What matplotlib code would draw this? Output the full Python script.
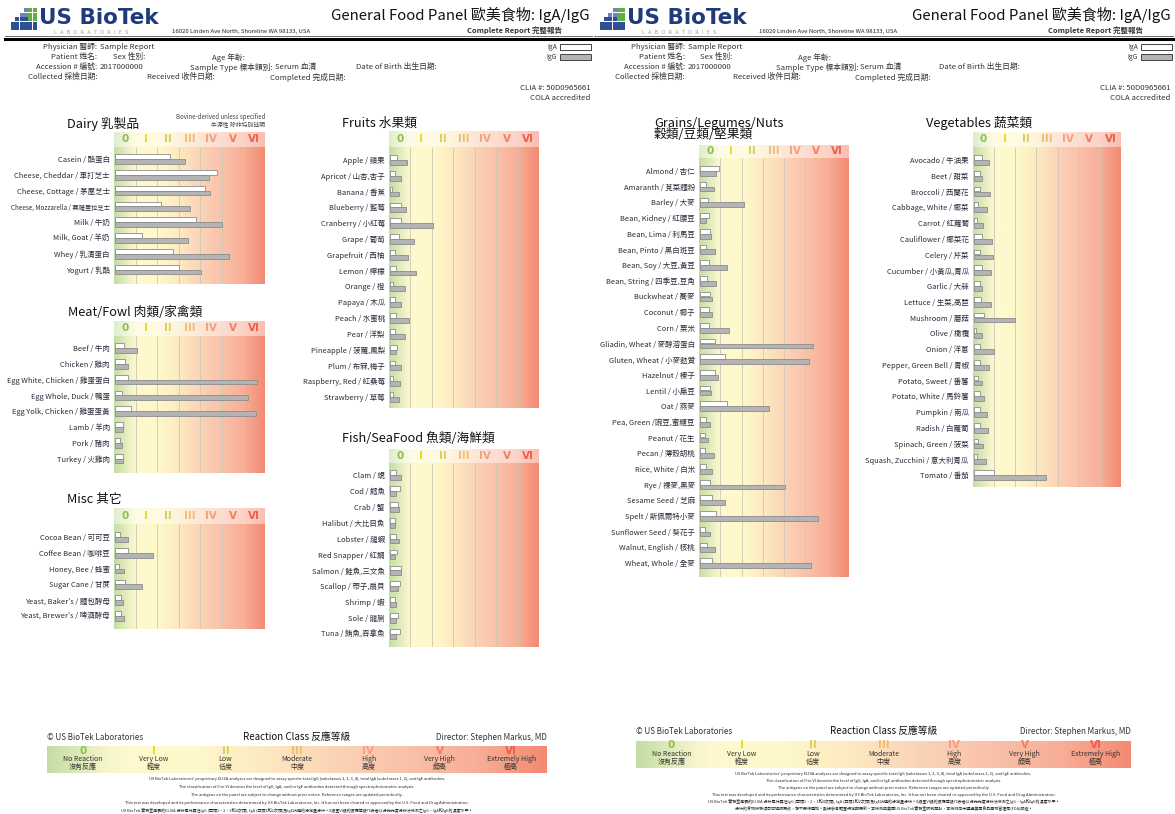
import numpy as np
import matplotlib
matplotlib.use('Agg')
import matplotlib.pyplot as plt
from matplotlib.colors import LinearSegmentedColormap, to_rgb

plt.rcParams['font.family'] = ['Noto Sans CJK TC', 'DejaVu Sans']

# ---------------- data ----------------
classes = ['0', 'I', 'II', 'III', 'IV', 'V', 'VI']
class_names = ['No Reaction', 'Very Low', 'Low', 'Moderate', 'High', 'Very High', 'Extremely High']
class_names_zh = ['沒有反應', '輕度', '低度', '中度', '高度', '頗高', '極高']

dairy_labels = ['Casein / 酪蛋白', 'Cheese, Cheddar / 車打芝士', 'Cheese, Cottage / 茅屋芝士',
                'Cheese, Mozzarella / 莫薩里拉芝士', 'Milk / 牛奶', 'Milk, Goat / 羊奶',
                'Whey / 乳清蛋白', 'Yogurt / 乳酪']
dairy_iga = [2.55, 4.72, 4.17, 2.14, 3.75, 1.27, 2.70, 2.98]
dairy_igg = [3.24, 4.38, 4.41, 3.50, 4.97, 3.39, 5.31, 3.97]

meat_labels = ['Beef / 牛肉', 'Chicken / 雞肉', 'Egg White, Chicken / 雞蛋蛋白', 'Egg Whole, Duck / 鴨蛋',
               'Egg Yolk, Chicken / 雞蛋蛋黃', 'Lamb / 羊肉', 'Pork / 豬肉', 'Turkey / 火雞肉']
meat_iga = [0.43, 0.46, 0.62, 0.34, 0.74, 0.40, 0.22, 0.40]
meat_igg = [1.02, 0.62, 6.60, 6.19, 6.54, 0.40, 0.31, 0.40]

misc_labels = ['Cocoa Bean / 可可豆', 'Coffee Bean / 咖啡豆', 'Honey, Bee / 蜂蜜', 'Sugar Cane / 甘蔗',
               "Yeast, Baker's / 麵包酵母", "Yeast, Brewer's / 啤酒酵母"]
misc_iga = [0.25, 0.62, 0.20, 0.46, 0.28, 0.28]
misc_igg = [0.63, 1.76, 0.43, 1.28, 0.37, 0.43]

fruit_labels = ['Apple / 蘋果', 'Apricot / 山杏,杏子', 'Banana / 香蕉', 'Blueberry / 藍莓', 'Cranberry / 小紅莓',
                'Grape / 葡萄', 'Grapefruit / 西柚', 'Lemon / 檸檬', 'Orange / 橙', 'Papaya / 木瓜',
                'Peach / 水蜜桃', 'Pear / 洋梨', 'Pineapple / 菠蘿,鳳梨', 'Plum / 布冧,梅子',
                'Raspberry, Red / 紅桑莓', 'Strawberry / 草莓']
fruit_iga = [0.33, 0.22, 0.09, 0.50, 0.50, 0.42, 0.26, 0.31, 0.16, 0.22, 0.31, 0.23, 0.34, 0.22, 0.16, 0.16]
fruit_igg = [0.79, 0.53, 0.44, 0.75, 2.02, 1.15, 0.87, 1.20, 0.73, 0.53, 0.89, 0.73, 0.31, 0.53, 0.47, 0.44]

fish_labels = ['Clam / 蜆', 'Cod / 鱈魚', 'Crab / 蟹', 'Halibut / 大比目魚', 'Lobster / 龍蝦', 'Red Snapper / 紅鯛',
               'Salmon / 鮭魚,三文魚', 'Scallop / 帶子,扇貝', 'Shrimp / 蝦', 'Sole / 龍脷', 'Tuna / 鮪魚,吞拿魚']
fish_iga = [0.31, 0.47, 0.37, 0.26, 0.28, 0.34, 0.53, 0.47, 0.26, 0.37, 0.47]
fish_igg = [0.53, 0.31, 0.42, 0.26, 0.42, 0.22, 0.53, 0.37, 0.31, 0.31, 0.31]

grain_labels = ['Almond / 杏仁', 'Amaranth / 莧菜麵粉', 'Barley / 大麥', 'Bean, Kidney / 紅腰豆', 'Bean, Lima / 利馬豆',
                'Bean, Pinto / 黑白斑豆', 'Bean, Soy / 大豆,黃豆', 'Bean, String / 四季豆,豆角', 'Buckwheat / 蕎麥',
                'Coconut / 椰子', 'Corn / 粟米', 'Gliadin, Wheat / 麥醇溶蛋白', 'Gluten, Wheat / 小麥麩質',
                'Hazelnut / 榛子', 'Lentil / 小扁豆', 'Oat / 燕麥', 'Pea, Green /豌豆,蜜糖豆', 'Peanut / 花生',
                'Pecan / 薄殼胡桃', 'Rice, White / 白米', 'Rye / 裸麥,黑麥', 'Sesame Seed / 芝麻',
                'Spelt / 斯佩爾特小麥', 'Sunflower Seed / 葵花子', 'Walnut, English / 核桃', 'Wheat, Whole / 全麥']
grain_iga = [0.89, 0.31, 0.38, 0.42, 0.50, 0.31, 0.42, 0.34, 0.47, 0.41, 0.42, 0.69, 1.20,
             0.69, 0.47, 1.28, 0.27, 0.23, 0.25, 0.28, 0.47, 0.59, 0.78, 0.25, 0.34, 0.59]
grain_igg = [0.74, 0.66, 2.07, 0.31, 0.53, 0.70, 1.28, 0.75, 0.59, 0.59, 1.36, 5.32, 5.13,
             0.85, 0.53, 3.25, 0.47, 0.39, 0.66, 0.59, 4.00, 1.16, 5.54, 0.47, 0.70, 5.20]

veg_labels = ['Avocado / 牛油果', 'Beet / 甜菜', 'Broccoli / 西蘭花', 'Cabbage, White / 椰菜', 'Carrot / 紅蘿蔔',
              'Cauliflower / 椰菜花', 'Celery / 芹菜', 'Cucumber / 小黃瓜,青瓜', 'Garlic / 大蒜',
              'Lettuce / 生菜,萵苣', 'Mushroom / 蘑菇', 'Olive / 橄欖', 'Onion / 洋蔥',
              'Pepper, Green Bell / 青椒', 'Potato, Sweet / 番薯', 'Potato, White / 馬鈴薯', 'Pumpkin / 南瓜',
              'Radish / 白蘿蔔', 'Spinach, Green / 菠菜', 'Squash, Zucchini / 意大利青瓜', 'Tomato / 番茄']
veg_iga = [0.38, 0.31, 0.31, 0.22, 0.16, 0.38, 0.31, 0.38, 0.27, 0.35, 0.50, 0.09, 0.31,
           0.27, 0.19, 0.28, 0.27, 0.27, 0.19, 0.16, 0.94]
veg_igg = [0.72, 0.38, 0.75, 0.63, 0.42, 0.85, 0.90, 0.82, 0.38, 0.79, 1.97, 0.38, 0.94,
           0.72, 0.38, 0.47, 0.63, 0.68, 0.42, 0.58, 3.40]

disclaimer = [
    "US BioTek Laboratories' proprietary ELISA analyses are designed to assay specific total IgG (subclasses 1, 2, 3, 4), total IgA (subclasses 1, 2), and IgE antibodies.",
    "The classification of 0 to VI denotes the level of IgG, IgA, and/or IgE antibodies detected through spectrophotometric analysis.",
    "The antigens on the panel are subject to change without prior notice. Reference ranges are updated periodically.",
    "This test was developed and its performance characteristics determined by US BioTek Laboratories, Inc. It has not been cleared or approved by the U.S. Food and Drug Administration.",
    "US BioTek 實驗室專屬的ELISA 分析是特異性IgG (亞類1、2、3和4次類), IgA (亞類1和2次類)及IgE抗體的分定量分析。0級至VI級的反應等級代表著以分光光度分析法檢測之IgG、IgA和IgE的濃度水平。",
    "分析的食物檢驗項目可隨時更改，恕不另行通知。數據參考範圍將定期更新。本檢測由美國US BioTek實驗室研究開發，本檢測尚未通過美國食品藥物管理局(FDA)認證。",
]

# ---------------- styling ----------------
W, H = 1175, 814
class_colors = ['#8cc04a', '#ecd820', '#d6cf5e', '#eebf72', '#f4a080', '#f37f62', '#ee5e4c']
grad_stops = [(0.0, '#c3dea5'), (0.12, '#f6f5cc'), (0.16, '#fef9cf'), (0.30, '#fef8ca'),
              (0.43, '#fdeac0'), (0.57, '#fbd4b7'), (0.72, '#f9c1a9'), (0.86, '#f8ae97'), (1.0, '#f38a72')]
cmap = LinearSegmentedColormap.from_list('rc', grad_stops)
light_stops = [(p, tuple(0.55 * np.array(to_rgb(c)) + 0.45)) for p, c in grad_stops]
cmap_light = LinearSegmentedColormap.from_list('rcl', light_stops)
grad = np.linspace(0, 1, 256)[None, :]
text_col = '#2b2b3b'

fig = plt.figure(figsize=(W / 100, H / 100), dpi=100)
ov = fig.add_axes([0, 0, 1, 1], zorder=0)
ov.set_xlim(0, W)
ov.set_ylim(H, 0)
ov.axis('off')


def fig_rect(x0, y0, x1, y1):
    return [x0 / W, 1 - y1 / H, (x1 - x0) / W, (y1 - y0) / H]


def draw_panel(labels, iga, igg, box, title, title_xy, label_fs=5.4, small=()):
    left, right, htop, hbot, first, step, bottom = box
    ax = fig.add_axes(fig_rect(left, htop, right, bottom), zorder=2)
    n = len(labels)
    ytop = (htop - first) / step
    yhb = (hbot - first) / step
    ybot = (bottom - first) / step
    ax.imshow(grad, cmap=cmap, extent=[0, 7, ybot, yhb], aspect='auto', zorder=0, interpolation='bilinear')
    ax.imshow(grad, cmap=cmap_light, extent=[0, 7, yhb, ytop], aspect='auto', zorder=0, interpolation='bilinear')
    ax.vlines(np.arange(1, 7), yhb, ybot, color='#cfc7b5', lw=0.6, zorder=1)
    for k, (c, col) in enumerate(zip(classes, class_colors)):
        ax.text(k + 0.5, (yhb + ytop) / 2, c, ha='center', va='center', fontsize=7.5,
                fontweight='bold', color=col, family='DejaVu Sans')
    y = np.arange(n)
    ax.barh(y - 0.155, iga, height=0.3, left=0.04, color='white', edgecolor='#8c8c8c', lw=0.6, zorder=3)
    ax.barh(y + 0.155, igg, height=0.3, left=0.04, color='#b4b4b4', edgecolor='#8c8c8c', lw=0.6, zorder=3)
    ax.set_xlim(0, 7)
    ax.set_ylim(ybot, ytop)
    ax.set_yticks(y)
    ax.set_yticklabels(labels, fontsize=label_fs, color=text_col)
    for i in small:
        ax.get_yticklabels()[i].set_fontsize(4.5)
    ax.set_xticks([])
    ax.tick_params(axis='y', length=0, pad=3)
    for s in ax.spines.values():
        s.set_visible(False)
    if isinstance(title, (list, tuple)):
        for i, t in enumerate(title):
            ov.text(title_xy[0], title_xy[1] + i * 11, t, fontsize=9.2, ha='left', va='center', color='#111')
    else:
        ov.text(title_xy[0], title_xy[1], title, fontsize=9.2, ha='left', va='center', color='#111')
    return ax


def draw_header(dx, s=1.0):
    X = lambda x: dx + s * x
    for r in range(5):
        for c in range(6):
            if c < 3 - r:
                continue
            col = '#5fae46' if (c >= 4 and r <= 2) else ('#2f4f93' if r >= 2 else '#6f86b8')
            ov.scatter(X(13 + c * 4.3), 10 + r * 4.6, s=5.5, marker='s', color=col, lw=0)
    ov.text(X(39), 18, 'US BioTek', fontsize=15.5, fontweight='bold', color='#213a7c',
            va='center', ha='left', family='DejaVu Sans')
    ov.text(X(91), 32, 'L  A  B  O  R  A  T  O  R  I  E  S', fontsize=3.6, color='#9a9a9a',
            ha='center', va='center', family='DejaVu Sans')
    ov.text(X(172), 31, '16020 Linden Ave North, Shoreline WA 98133, USA', fontsize=4.3,
            color='#222', va='center', ha='left')
    ov.text(X(590), 15, 'General Food Panel 歐美食物: IgA/IgG', fontsize=10.8, color='#111',
            ha='right', va='center')
    ov.text(X(562), 30, 'Complete Report 完整報告', fontsize=5.4, color='#333', ha='right',
            va='center', fontweight='bold')
    ov.plot([X(5), X(592)], [35.5, 35.5], color='#555', lw=0.6)
    ov.plot([X(5), X(592)], [38.5, 38.5], color='#000', lw=2.2)
    fs = 5.6
    rows = [
        (47, [(97, 'Physician 醫師:', 'right'), (100, 'Sample Report', 'left')]),
        (57, [(97, 'Patient 姓名:', 'right'), (145, 'Sex 性別:', 'right'), (245, 'Age 年齡:', 'right')]),
        (67, [(97, 'Accession # 編號:', 'right'), (100, '2017000000', 'left'),
              (273, 'Sample Type 標本類別:', 'right'), (275, 'Serum 血清', 'left'),
              (437, 'Date of Birth 出生日期:', 'right')]),
        (77, [(97, 'Collected 採檢日期:', 'right'), (215, 'Received 收件日期:', 'right'),
              (346, 'Completed 完成日期:', 'right')]),
    ]
    for yy, items in rows:
        for xx, t, ha in items:
            ov.text(X(xx), yy, t, fontsize=fs, ha=ha, va='center', color='#333')
    ov.text(X(557), 47, 'IgA', fontsize=4.8, ha='right', va='center', color='#333')
    ov.text(X(557), 57, 'IgG', fontsize=4.8, ha='right', va='center', color='#333')
    ov.add_patch(plt.Rectangle((X(560), 43.5), 31 * s, 6, facecolor='white', edgecolor='#444', lw=0.7))
    ov.add_patch(plt.Rectangle((X(560), 53.5), 31 * s, 6, facecolor='#b4b4b4', edgecolor='#444', lw=0.7))
    ov.text(X(590), 88, 'CLIA #: 50D0965661', fontsize=5.6, ha='right', va='center', color='#333')
    ov.text(X(590), 98, 'COLA accredited', fontsize=5.6, ha='right', va='center', color='#333')


def draw_footer(x0, x1, ytext, bar_top, bar_bot, dis_y, dis_step, n_lines):
    ov.text(x0, ytext, '© US BioTek Laboratories', fontsize=5.8, ha='left', va='center', color='#333')
    ov.text((x0 + x1) / 2, ytext, 'Reaction Class 反應等級', fontsize=7, ha='center', va='center', color='#111')
    ov.text(x1, ytext, 'Director: Stephen Markus, MD', fontsize=5.8, ha='right', va='center', color='#333')
    ov.imshow(grad, cmap=cmap, extent=[x0, x1, bar_bot, bar_top], aspect='auto', zorder=0,
              interpolation='bilinear')
    seg = (x1 - x0) / 7
    for k in range(7):
        cx = x0 + seg * (k + 0.5)
        ov.text(cx, bar_top + 4.5, classes[k], fontsize=7.5, fontweight='bold', color=class_colors[k],
                ha='center', va='center', family='DejaVu Sans')
        ov.text(cx, bar_top + 13, class_names[k], fontsize=5, ha='center', va='center', color='#333')
        ov.text(cx, bar_top + 21, class_names_zh[k], fontsize=5, ha='center', va='center', color='#333')
    for i, line in enumerate(disclaimer[:n_lines]):
        ov.text((x0 + x1) / 2, dis_y + i * dis_step, line, fontsize=2.9, ha='center', va='center', color='#222')


# ---------------- left page ----------------
draw_header(0)
ov.text(265, 117, 'Bovine-derived unless specified', fontsize=4.4, ha='right', va='center', color='#444')
ov.text(265, 125.5, '牛源性 除非特別註明', fontsize=4.2, ha='right', va='center', color='#444')

draw_panel(dairy_labels, dairy_iga, dairy_igg, (114, 265, 132, 147, 159, 15.8, 284), 'Dairy 乳製品', (67, 124),
           small=(3,))
draw_panel(meat_labels, meat_iga, meat_igg, (114, 265, 321, 336, 348, 15.8, 473), 'Meat/Fowl 肉類/家禽類', (68, 312))
draw_panel(misc_labels, misc_iga, misc_igg, (114, 265, 508, 524, 537, 15.8, 629), 'Misc 其它', (67, 500))
draw_panel(fruit_labels, fruit_iga, fruit_igg, (389, 539, 131, 147, 160, 15.8, 408), 'Fruits 水果類', (342, 123))
draw_panel(fish_labels, fish_iga, fish_igg, (389, 539, 449, 463, 475, 15.9, 647), 'Fish/SeaFood 魚類/海鮮類', (342, 438))
draw_footer(47, 547, 737, 746, 773, 779, 7.9, 5)

# ---------------- right page ----------------
draw_header(589, 0.986)
draw_panel(grain_labels, grain_iga, grain_igg, (699, 848, 145, 158, 171, 15.68, 577),
           ['Grains/Legumes/Nuts', '穀類/豆類/堅果類'], (654, 123))
draw_panel(veg_labels, veg_iga, veg_igg, (973, 1121, 132, 147, 160, 15.75, 487), 'Vegetables 蔬菜類', (926, 123))
draw_footer(636, 1131, 731, 741, 768, 774, 7.0, 6)

fig.savefig('out.png', dpi=100, facecolor='white')
